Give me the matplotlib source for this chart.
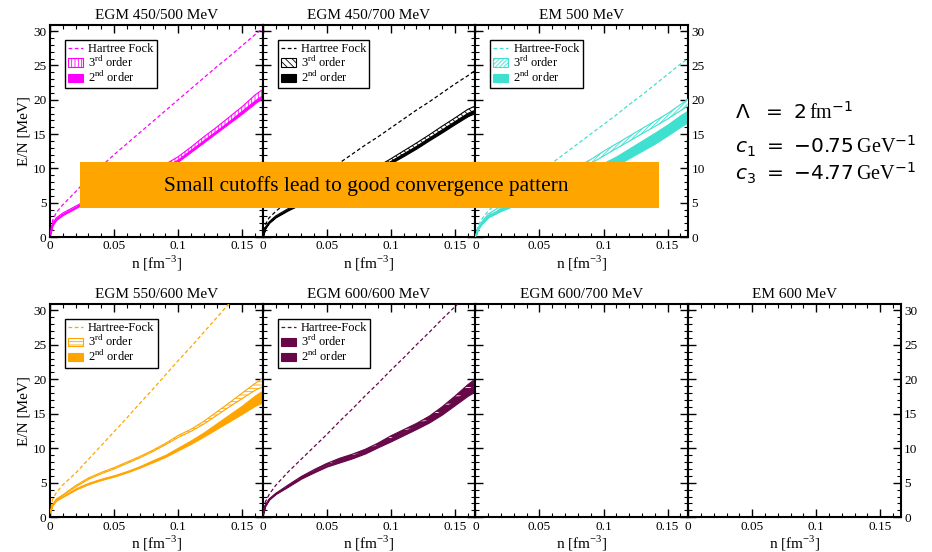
import matplotlib
matplotlib.use("Agg")
import matplotlib.pyplot as plt
from matplotlib.patches import Patch, Rectangle
from matplotlib.lines import Line2D
from matplotlib.ticker import MultipleLocator, FixedLocator

plt.rcParams['font.family'] = ['Liberation Serif', 'DejaVu Serif']
plt.rcParams['mathtext.fontset'] = 'custom'
plt.rcParams['mathtext.rm'] = 'Liberation Serif'
plt.rcParams['mathtext.it'] = 'DejaVu Sans:italic'
plt.rcParams['mathtext.sf'] = 'DejaVu Sans'
plt.rcParams['hatch.linewidth'] = 0.6

# ---------------- data ----------------
n = [0, 0.002, 0.005, 0.01, 0.02, 0.03, 0.04, 0.05, 0.06, 0.07, 0.08, 0.09,
     0.10, 0.11, 0.12, 0.13, 0.14, 0.15, 0.16, 0.166]

titles_top = ["EGM 450/500 MeV", "EGM 450/700 MeV", "EM 500 MeV"]
titles_bot = ["EGM 550/600 MeV", "EGM 600/600 MeV", "EGM 600/700 MeV", "EM 600 MeV"]
hf_labels = ["Hartree Fock", "Hartree Fock", "Hartree-Fock", "Hartree-Fock", "Hartree-Fock"]
colors = ["#FF00FF", "#000000", "#40E0D0", "#FFA500", "#670748"]

hf1 = [0.3, 2.4, 3.6, 4.7, 6.6, 8.6, 10.3, 12.0, 13.6, 15.2, 16.8, 18.4, 20.0, 21.6, 23.2, 24.8, 26.3, 27.9, 29.5, 30.4]
o2lo1 = [0.3, 1.7, 2.5, 3.2, 4.2, 5.2, 6.0, 6.8, 7.6, 8.4, 9.1, 10.0, 11.0, 12.4, 13.8, 15.2, 16.6, 18.0, 19.5, 20.3]
o2hi1 = [0.3, 1.9, 2.7, 3.4, 4.4, 5.4, 6.2, 7.1, 7.9, 8.7, 9.5, 10.4, 11.5, 12.9, 14.3, 15.8, 17.3, 18.8, 20.5, 21.2]
o3lo1 = [0.3, 1.8, 2.6, 3.3, 4.3, 5.3, 6.1, 6.9, 7.7, 8.5, 9.3, 10.2, 11.2, 12.6, 14.0, 15.4, 16.8, 18.3, 19.8, 20.6]
o3hi1 = [0.3, 2.0, 2.8, 3.5, 4.5, 5.5, 6.4, 7.2, 8.0, 8.9, 9.7, 10.6, 11.7, 13.1, 14.6, 16.0, 17.5, 19.0, 20.7, 21.5]

hf2 = [0.0, 1.8, 2.8, 3.7, 5.3, 6.7, 8.0, 9.4, 10.8, 12.1, 13.4, 14.6, 15.9, 17.2, 18.5, 19.7, 21.0, 22.3, 23.5, 24.3]
o2lo2 = [0, 1.25, 2.05, 2.85, 3.9, 4.8, 5.55, 6.35, 7.1, 7.9, 8.8, 9.65, 10.75, 11.8, 12.9, 14.1, 15.25, 16.45, 17.6, 18.1]
o2hi2 = [0, 1.35, 2.15, 2.95, 4.05, 4.95, 5.8, 6.6, 7.4, 8.2, 9.1, 10.0, 11.1, 12.2, 13.3, 14.5, 15.7, 16.9, 18.1, 18.6]
o3lo2 = [0, 1.3, 2.1, 2.9, 4.0, 4.9, 5.7, 6.5, 7.3, 8.1, 9.0, 9.9, 11.0, 12.1, 13.2, 14.4, 15.6, 16.8, 18.0, 18.5]
o3hi2 = [0, 1.4, 2.2, 3.05, 4.15, 5.1, 5.95, 6.8, 7.6, 8.45, 9.35, 10.3, 11.4, 12.55, 13.7, 14.9, 16.15, 17.35, 18.6, 19.1]

hf3 = [0, 1.6, 2.6, 3.8, 5.5, 6.9, 8.2, 9.5, 10.8, 12.2, 13.6, 15.0, 16.4, 17.8, 19.3, 20.7, 22.2, 23.7, 25.2, 26.0]
o2lo3 = [0, 1.1, 1.9, 2.85, 3.8, 4.55, 5.2, 5.85, 6.5, 7.25, 8.0, 8.75, 9.6, 10.45, 11.5, 12.55, 13.6, 14.8, 16.05, 16.75]
o2hi3 = [0, 1.3, 2.1, 3.15, 4.2, 5.05, 5.8, 6.55, 7.3, 8.15, 9.0, 9.85, 10.8, 11.75, 12.9, 14.05, 15.2, 16.4, 17.75, 18.45]
o3lo3 = [0, 1.1, 2.0, 3.05, 4.1, 5.05, 6.0, 6.85, 7.8, 8.75, 9.7, 10.7, 11.8, 12.9, 13.95, 15.05, 16.1, 17.2, 18.4, 19.1]
o3hi3 = [0, 1.3, 2.2, 3.35, 4.5, 5.5, 6.5, 7.4, 8.3, 9.3, 10.3, 11.3, 12.5, 13.6, 14.7, 15.8, 16.9, 18.0, 19.3, 20.1]

hf4 = [0.5, 2.6, 3.6, 4.7, 6.4, 8.4, 10.4, 12.4, 14.4, 16.5, 18.5, 20.6, 22.7, 24.7, 26.8, 28.9, 31.0, 33.1, 35.2, 36.4]
o2lo4 = [0.8, 1.75, 2.45, 2.95, 4.0, 4.8, 5.4, 5.9, 6.5, 7.2, 7.95, 8.75, 9.7, 10.65, 11.7, 12.8, 13.9, 15.0, 16.15, 16.65]
o2hi4 = [0.8, 1.85, 2.55, 3.05, 4.2, 5.0, 5.6, 6.1, 6.7, 7.4, 8.25, 9.05, 10.1, 11.15, 12.3, 13.6, 14.9, 16.2, 17.65, 18.35]
o3lo4 = [0.8, 1.75, 2.55, 3.15, 4.4, 5.5, 6.3, 7.0, 7.8, 8.6, 9.5, 10.5, 11.55, 12.45, 13.5, 14.75, 16.0, 17.2, 18.4, 18.9]
o3hi4 = [0.8, 1.85, 2.65, 3.25, 4.6, 5.7, 6.5, 7.2, 8.0, 8.8, 9.7, 10.7, 11.85, 12.75, 13.9, 15.25, 16.6, 18.0, 19.4, 20.1]

hf5 = [0.3, 2.2, 3.3, 4.6, 6.6, 8.4, 10.2, 12.0, 13.9, 15.7, 17.6, 19.4, 21.3, 23.1, 25.0, 26.8, 28.7, 30.5, 32.4, 33.5]
o2lo5 = [0.3, 1.65, 2.55, 3.35, 4.45, 5.6, 6.5, 7.35, 7.95, 8.55, 9.25, 10.15, 11.0, 11.9, 12.8, 13.75, 14.9, 16.25, 17.6, 18.25]
o2hi5 = [0.3, 1.75, 2.65, 3.45, 4.65, 5.8, 6.7, 7.55, 8.25, 8.85, 9.55, 10.45, 11.4, 12.3, 13.2, 14.25, 15.5, 16.95, 18.4, 19.15]
o3lo5 = [0.3, 1.65, 2.55, 3.35, 4.5, 5.7, 6.7, 7.6, 8.25, 8.85, 9.55, 10.45, 11.4, 12.3, 13.2, 14.15, 15.4, 16.85, 18.4, 19.15]
o3hi5 = [0.3, 1.75, 2.65, 3.45, 4.7, 5.9, 6.9, 7.8, 8.55, 9.15, 9.85, 10.75, 11.8, 12.7, 13.6, 14.65, 16.0, 17.55, 19.2, 20.05]

panels = [
    (hf1, o2lo1, o2hi1, o3lo1, o3hi1),
    (hf2, o2lo2, o2hi2, o3lo2, o3hi2),
    (hf3, o2lo3, o2hi3, o3lo3, o3hi3),
    (hf4, o2lo4, o2hi4, o3lo4, o3hi4),
    (hf5, o2lo5, o2hi5, o3lo5, o3hi5),
]
hatches = ['|||||', '\\\\\\\\\\', '////////', '-----', '--']

xticks = [0, 0.05, 0.1, 0.15]
xticklabels = ["0", "0.05", "0.1", "0.15"]
yticks = [0, 5, 10, 15, 20, 25, 30]

# ---------------- layout ----------------
W, H = 932, 552
fig = plt.figure(figsize=(W / 100, H / 100), dpi=100)
pw = 212.7
x0 = 50.0
rows = [(25.0, 237.0), (304.0, 517.3)]
ax_titles = [titles_top, titles_bot]


def make_ax(row, col):
    top, bot = rows[row]
    left = x0 + col * pw
    ax = fig.add_axes([left / W, 1 - bot / H, pw / W, (bot - top) / H])
    ax.set_xlim(0, 0.166)
    ax.set_ylim(0, 30.9)
    ax.xaxis.set_major_locator(FixedLocator(xticks))
    ax.set_xticklabels(xticklabels)
    ax.xaxis.set_minor_locator(MultipleLocator(0.01))
    ax.yaxis.set_major_locator(FixedLocator(yticks))
    ax.yaxis.set_minor_locator(MultipleLocator(1))
    ax.tick_params(which='both', direction='in', top=True, right=True,
                   labelsize=9.5, pad=2.5)
    ax.tick_params(which='major', length=6, width=1.0)
    ax.tick_params(which='minor', length=3, width=0.8)
    for s in ax.spines.values():
        s.set_linewidth(1.5)
    ax.set_xlabel("n [fm$^{-3}$]", fontsize=11, labelpad=1)
    ax.set_title(ax_titles[row][col], fontsize=11, pad=4)
    return ax


axes = []
for r, ncols in [(0, 3), (1, 4)]:
    for c in range(ncols):
        ax = make_ax(r, c)
        last = (c == ncols - 1)
        ax.tick_params(axis='y', labelleft=(c == 0), labelright=last)
        if c == 0:
            ax.set_ylabel("E/N [MeV]", fontsize=11, labelpad=2)
        axes.append(ax)

data_axes = axes[:5]

for i, ax in enumerate(data_axes):
    hf, o2lo, o2hi, o3lo, o3hi = panels[i]
    col = colors[i]
    ax.fill_between(n, o2lo, o2hi, facecolor=col, edgecolor=col, lw=0.8, zorder=2)
    if i == 4:
        face3, hcol = col, 'white'
    else:
        face3, hcol = 'white', col
    ax.fill_between(n, o3lo, o3hi, facecolor=face3, edgecolor=hcol,
                    hatch=hatches[i], lw=0, zorder=3)
    ax.plot(n, o3lo, color=col, lw=0.8, zorder=4)
    ax.plot(n, o3hi, color=col, lw=0.8, zorder=4)
    ax.plot(n, hf, color=col, lw=0.9, ls=(0, (3, 2)), zorder=5)

    handles = [
        Line2D([], [], color=col, lw=0.9, ls=(0, (3, 2))),
        Patch(facecolor=face3, edgecolor=hcol if i != 4 else col,
              hatch=hatches[i] if i != 4 else None, lw=0.8),
        Patch(facecolor=col, edgecolor=col, lw=0.8),
    ]
    labels = [hf_labels[i], "3$^{\\rm rd}$ order", "2$^{\\rm nd}$ order"]
    leg = ax.legend(handles, labels, loc='upper left',
                    bbox_to_anchor=(0.07, 0.93), borderaxespad=0,
                    fontsize=9, handlelength=1.2, handleheight=0.7,
                    handletextpad=0.4, labelspacing=0.0, borderpad=0.25,
                    fancybox=False, framealpha=1)
    leg.get_frame().set_edgecolor('black')
    leg.get_frame().set_linewidth(1.0)

# ---------------- annotations ----------------
box_l, box_r, box_t, box_b = 80, 659, 162, 208
fig.add_artist(Rectangle((box_l / W, 1 - box_b / H), (box_r - box_l) / W,
                         (box_b - box_t) / H, transform=fig.transFigure,
                         facecolor='#FFA500', edgecolor='none', zorder=10))
fig.text(366 / W, 1 - 186 / H, "Small cutoffs lead to good convergence pattern",
         ha='center', va='center', fontsize=15.4, zorder=11)

params = [
    r"$\mathsf{\Lambda}\ \ \mathsf{=}\ \mathsf{2}\,\mathrm{fm}^{\mathsf{-1}}$",
    r"$c_{\mathsf{1}}\ \mathsf{=}\ \mathsf{-0.75}\,\mathrm{GeV}^{\mathsf{-1}}$",
    r"$c_{\mathsf{3}}\ \mathsf{=}\ \mathsf{-4.77}\,\mathrm{GeV}^{\mathsf{-1}}$",
]
ys = [113, 146, 173]
for t, y in zip(params, ys):
    fig.text(735 / W, 1 - y / H, t, ha='left', va='center', fontsize=14.5)

fig.savefig("out.png", dpi=100)
